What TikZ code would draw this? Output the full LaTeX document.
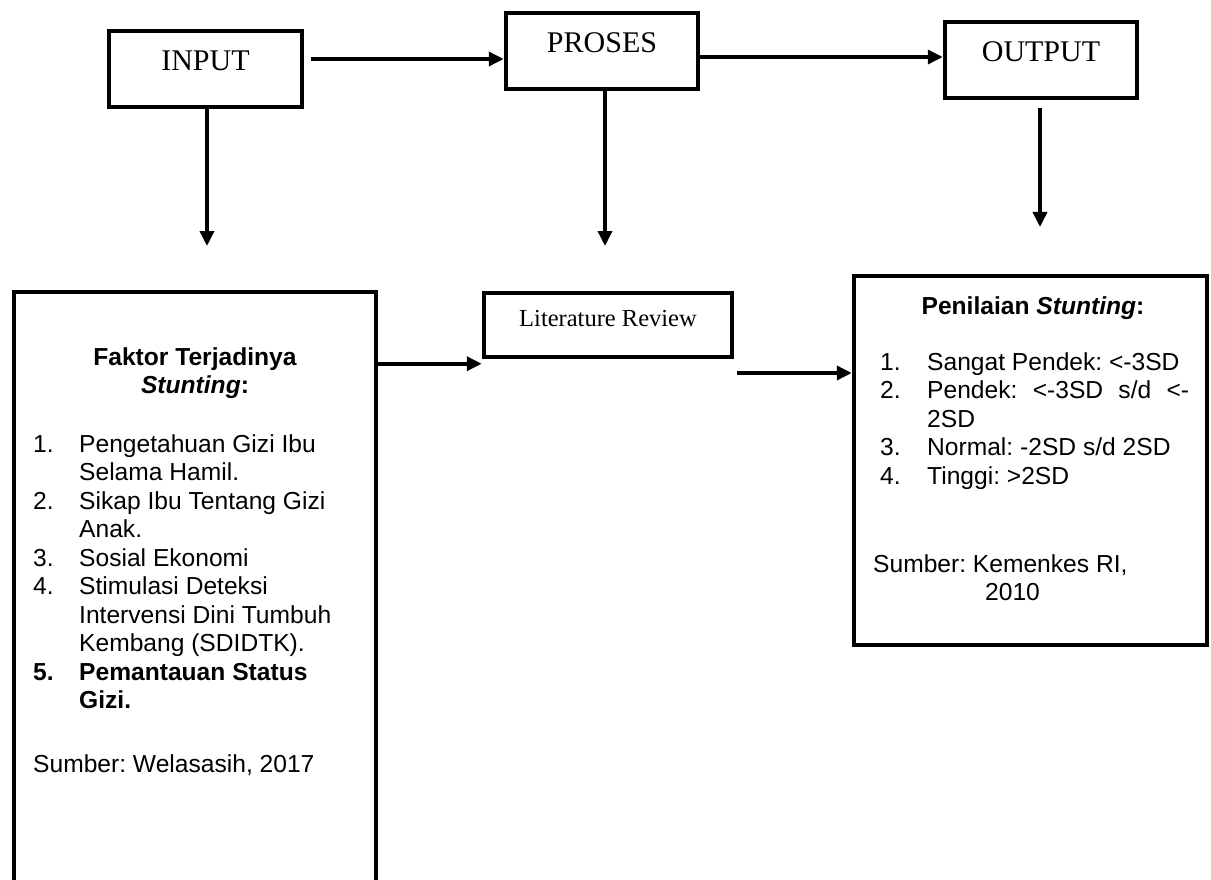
\documentclass[tikz,border=0pt]{standalone}
\usepackage{fontspec}
\setmainfont{Liberation Serif}
\setsansfont{Liberation Sans}
\usetikzlibrary{arrows.meta}

\newcommand{\itemno}[1]{\makebox[46pt][l]{#1}}
\tikzset{
  box/.style={draw, line width=4.5pt, inner sep=0pt, text height=20pt, text depth=17pt},
  headbox/.style={box, font=\fontsize{30pt}{36pt}\selectfont},
  arr/.style={line width=3.5pt, -{Triangle[length=15pt,width=14pt]}},
  body/.style={inner sep=0pt, font=\sffamily\fontsize{24.6pt}{28.5pt}\selectfont\frenchspacing}
}

\begin{document}
\begin{tikzpicture}[x=1pt,y=-1pt]
\useasboundingbox (0,0) rectangle (1211,880);
\clip (0,0) rectangle (1211,880);
\node[headbox, minimum width=193pt, minimum height=76pt] (input) at (205.5,69) {INPUT};
\node[headbox, minimum width=192pt, minimum height=76pt] (proses) at (602,51) {PROSES};
\node[headbox, minimum width=192pt, minimum height=76pt] (output) at (1041,60) {OUTPUT};
\node[box, minimum width=248pt, minimum height=64pt, font=\fontsize{24.5pt}{30pt}\selectfont] (litrev) at (608,325) {Literature Review};
\node[draw, line width=4.5pt, minimum width=362pt, minimum height=648pt] (faktor) at (195,616) {};
\node[draw, line width=4.5pt, minimum width=353pt, minimum height=369pt] (nilai) at (1030.5,460.5) {};

\coordinate (inEnd) at (207,246);
\coordinate (prEnd) at (605,246);
\coordinate (outEnd) at (1040,227);
\coordinate (ipA) at ([xshift=7pt,yshift=10pt]input.east);
\coordinate (poA) at ([yshift=-6pt]proses.east);
\coordinate (flA) at ([yshift=-74pt]faktor.north east);
\coordinate (lnA) at ([xshift=3pt,yshift=-48pt]litrev.east);
\coordinate (outA) at ([yshift=-8pt]output.south);

\draw[arr] (ipA) -- (ipA -| proses.west);
\draw[arr] (poA) -- (poA -| output.west);
\draw[arr] (input.south -| inEnd) -- (inEnd);
\draw[arr] (proses.south -| prEnd) -- (prEnd);
\draw[arr] (outA -| outEnd) -- (outEnd);
\draw[arr] (flA) -- (flA -| litrev.west);
\draw[arr] (lnA) -- (lnA -| nilai.west);

% left box
\node[body, anchor=base] (fkTitle) at (195,365) {\begin{tabular}[t]{@{}c@{}}\textbf{Faktor Terjadinya}\\\textbf{\textit{Stunting}:}\end{tabular}};
\node[body, anchor=base west] (fkList) at (33,452) {\begin{tabular}[t]{@{}l@{}l@{}}
\itemno{1.} & Pengetahuan Gizi Ibu\\
 & Selama Hamil.\\
\itemno{2.} & Sikap Ibu Tentang Gizi\\
 & Anak.\\
\itemno{3.} & Sosial Ekonomi\\
\itemno{4.} & Stimulasi Deteksi\\
 & Intervensi Dini Tumbuh\\
 & Kembang (SDIDTK).\\
\itemno{\textbf{5.}} & \textbf{Pemantauan Status}\\
 & \textbf{Gizi.}
\end{tabular}};
\node[body, anchor=base west] (fkSrc) at (33,772) {Sumber: Welasasih, 2017};

% right box
\node[body, anchor=base] (nlTitle) at (1033,314) {\textbf{Penilaian \textit{Stunting}:}};
\node[body, anchor=base west] (nlList) at (880,370) {\begin{tabular}[t]{@{}l@{}l@{}}
\makebox[47pt][l]{1.} & Sangat Pendek: <-3SD\\
\makebox[47pt][l]{2.} & \makebox[262pt][s]{Pendek: <-3SD s/d <-}\\
 & 2SD\\
\makebox[47pt][l]{3.} & Normal: -2SD s/d 2SD\\
\makebox[47pt][l]{4.} & Tinggi: >2SD
\end{tabular}};
\node[body, anchor=base west] (nlSrc) at (873,572) {\begin{tabular}[t]{@{}l@{}}Sumber: Kemenkes RI,\\\hspace*{112pt}2010\end{tabular}};
\end{tikzpicture}
\end{document}
